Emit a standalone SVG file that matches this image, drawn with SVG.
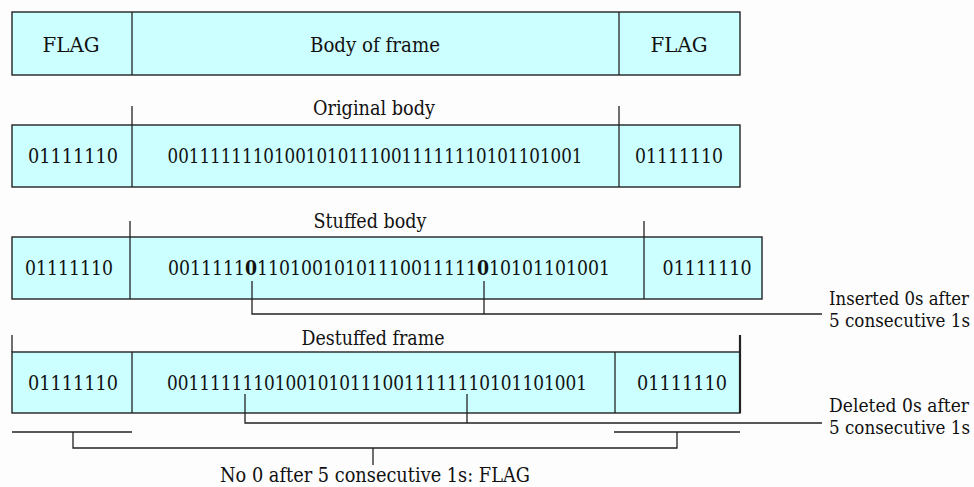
<svg xmlns="http://www.w3.org/2000/svg" width="974" height="487" viewBox="0 0 974 487">
<style>
.bg{fill:#fdfdfd}
.box{fill:#ccffff;stroke:#222;stroke-width:1.4}
.ln{fill:none;stroke:#222;stroke-width:1.3}
.t{font-family:"DejaVu Serif","Liberation Serif",serif;font-size:20px;fill:#111}
.s{font-size:19px}
.c{text-anchor:middle}
.b{font-weight:bold}
</style>
<rect class="bg" x="0" y="0" width="974" height="487"/>

<g id="frame-format">
<rect class="box" x="12" y="12" width="728" height="63"/>
<line class="ln" x1="132" y1="12" x2="132" y2="75"/>
<line class="ln" x1="619" y1="12" x2="619" y2="75"/>
<text class="t c" x="71" y="52" textLength="57" lengthAdjust="spacingAndGlyphs">FLAG</text>
<text class="t c" x="375" y="52" textLength="130" lengthAdjust="spacingAndGlyphs">Body of frame</text>
<text class="t c" x="679" y="52" textLength="57" lengthAdjust="spacingAndGlyphs">FLAG</text>
</g>

<g id="original">
<text class="t c" x="374" y="115" textLength="122" lengthAdjust="spacingAndGlyphs">Original body</text>
<rect class="box" x="12" y="125" width="728" height="62"/>
<line class="ln" x1="132" y1="106" x2="132" y2="187"/>
<line class="ln" x1="619" y1="106" x2="619" y2="187"/>
<text class="t c" x="73" y="163" textLength="90" lengthAdjust="spacingAndGlyphs">01111110</text>
<text class="t c" x="375" y="163" textLength="415" lengthAdjust="spacingAndGlyphs">001111111010010101110011111110101101001</text>
<text class="t c" x="679" y="163" textLength="88" lengthAdjust="spacingAndGlyphs">01111110</text>
</g>

<g id="stuffed">
<text class="t c" x="370" y="228" textLength="113" lengthAdjust="spacingAndGlyphs">Stuffed body</text>
<rect class="box" x="12" y="237" width="750" height="62"/>
<line class="ln" x1="130" y1="221" x2="130" y2="299"/>
<line class="ln" x1="644" y1="221" x2="644" y2="299"/>
<text class="t c" x="69" y="275" textLength="88" lengthAdjust="spacingAndGlyphs">01111110</text>
<text class="t" x="168" y="275" textLength="442" lengthAdjust="spacingAndGlyphs">0011111<tspan class="b">0</tspan>11010010101110011111<tspan class="b">0</tspan>10101101001</text>
<text class="t c" x="707" y="275" textLength="89" lengthAdjust="spacingAndGlyphs">01111110</text>
</g>

<g id="destuffed">
<text class="t c" x="373" y="345" textLength="143" lengthAdjust="spacingAndGlyphs">Destuffed frame</text>
<rect class="box" x="12" y="352" width="728" height="61"/>
<line class="ln" x1="12" y1="335" x2="12" y2="352"/>
<line class="ln" x1="132" y1="352" x2="132" y2="413"/>
<line class="ln" x1="615" y1="352" x2="615" y2="413"/>
<line class="ln" x1="740" y1="335" x2="740" y2="413" style="stroke-width:2.2"/>
<text class="t c" x="73" y="390" textLength="90" lengthAdjust="spacingAndGlyphs">01111110</text>
<text class="t c" x="377" y="390" textLength="420" lengthAdjust="spacingAndGlyphs">001111111010010101110011111110101101001</text>
<text class="t c" x="682" y="390" textLength="90" lengthAdjust="spacingAndGlyphs">01111110</text>
</g>

<g id="connectors">
<polyline class="ln" points="252,281 252,314 822,314"/>
<line class="ln" x1="484" y1="281" x2="484" y2="314"/>
<polyline class="ln" points="245,394 245,423 822,423"/>
<line class="ln" x1="467" y1="394" x2="467" y2="423"/>
<line class="ln" x1="12" y1="432" x2="132" y2="432"/>
<line class="ln" x1="614" y1="432" x2="740" y2="432"/>
<polyline class="ln" points="73,432 73,448 677,448 677,432"/>
<line class="ln" x1="373" y1="448" x2="373" y2="465"/>
</g>

<g id="labels">
<text class="t s" x="829" y="305" textLength="140" lengthAdjust="spacingAndGlyphs">Inserted 0s after</text>
<text class="t s" x="829" y="327" textLength="141" lengthAdjust="spacingAndGlyphs">5 consecutive 1s</text>
<text class="t s" x="829" y="412" textLength="140" lengthAdjust="spacingAndGlyphs">Deleted 0s after</text>
<text class="t s" x="829" y="434" textLength="141" lengthAdjust="spacingAndGlyphs">5 consecutive 1s</text>
<text class="t" x="220" y="482" textLength="310" lengthAdjust="spacingAndGlyphs">No 0 after 5 consecutive 1s: FLAG</text>
</g>
</svg>
